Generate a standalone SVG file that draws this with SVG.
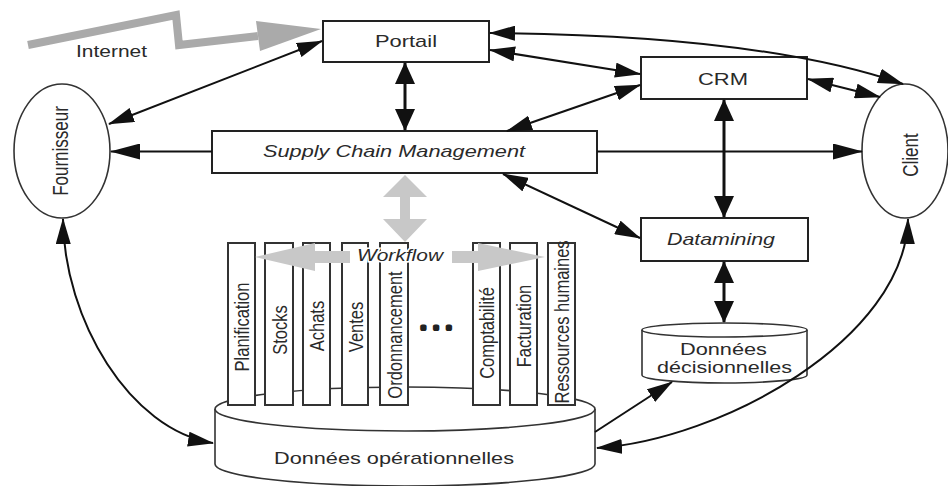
<svg xmlns="http://www.w3.org/2000/svg" width="948" height="486" viewBox="0 0 948 486">
<style>
text{font-family:"Liberation Sans",Arial,sans-serif;font-size:17px;fill:#2a2a2a}
.it{font-style:italic}
.box{fill:#fff;stroke:#222;stroke-width:2}
.ell{fill:#fff;stroke:#333;stroke-width:1.6}
.col{fill:#fff;stroke:#333;stroke-width:2}
.ct{font-size:16.5px}
.cn{fill:none;stroke:#111;stroke-width:2}
.cv{fill:none;stroke:#111;stroke-width:3}
.gray{fill:#c8c8c8}
</style>
<defs>
<marker id="ad" viewBox="0 0 26 15" refX="25" refY="7.5" markerWidth="26" markerHeight="15" markerUnits="userSpaceOnUse" orient="auto-start-reverse"><path d="M0,0 L26,7.5 L0,15 z" fill="#111"/></marker>
<marker id="ah" viewBox="0 0 30 16" refX="29" refY="8" markerWidth="30" markerHeight="16" markerUnits="userSpaceOnUse" orient="auto-start-reverse"><path d="M0,0 L30,8 L0,16 z" fill="#111"/></marker>
<marker id="av" viewBox="0 0 22 20" refX="21" refY="10" markerWidth="22" markerHeight="20" markerUnits="userSpaceOnUse" orient="auto-start-reverse"><path d="M0,0 L22,10 L0,20 z" fill="#111"/></marker>
</defs>

<g id="internet">
<polyline points="28,45 176,15 179,45 258,36" fill="none" stroke="#aaa" stroke-width="8" stroke-linejoin="miter"/>
<polygon points="256,21 321,29 260,51" fill="#aaa"/>
<text x="76" y="57" textLength="71" lengthAdjust="spacingAndGlyphs" fill="#444">Internet</text>
</g>

<g id="portail">
<rect class="box" x="323" y="21" width="166" height="41"/>
<text x="406" y="47" text-anchor="middle" textLength="62" lengthAdjust="spacingAndGlyphs">Portail</text>
</g>

<g id="crm">
<rect class="box" x="641" y="57" width="166" height="42"/>
<text x="723" y="85" text-anchor="middle" textLength="50" lengthAdjust="spacingAndGlyphs">CRM</text>
</g>

<g id="scm">
<rect class="box" x="212" y="131" width="385" height="42"/>
<text class="it" x="394" y="157" text-anchor="middle" textLength="262" lengthAdjust="spacingAndGlyphs">Supply Chain Management</text>
</g>

<g id="datamining">
<rect class="box" x="641" y="218" width="167" height="43"/>
<text class="it" x="721" y="245" text-anchor="middle" textLength="108" lengthAdjust="spacingAndGlyphs">Datamining</text>
</g>

<g id="fournisseur">
<ellipse class="ell" cx="62" cy="151" rx="48" ry="67"/>
<text transform="translate(60,151) scale(1.25,1) rotate(-90)" x="0" y="6" text-anchor="middle">Fournisseur</text>
</g>

<g id="client">
<ellipse class="ell" cx="905" cy="151" rx="43" ry="67"/>
<text transform="translate(910,155) scale(1.25,1) rotate(-90)" x="0" y="6" text-anchor="middle">Client</text>
</g>

<g id="donnees-decisionnelles">
<path class="ell" d="M642,330 L642,375 A82.5,8 0 0 0 807,375 L807,330"/>
<ellipse class="ell" cx="724.5" cy="330" rx="82.5" ry="7"/>
<text x="723.5" y="355" text-anchor="middle" textLength="87" lengthAdjust="spacingAndGlyphs">Données</text>
<text x="724.5" y="373" text-anchor="middle" textLength="135" lengthAdjust="spacingAndGlyphs">décisionnelles</text>
</g>

<g id="donnees-operationnelles">
<path class="ell" d="M215,409 L215,464 A190,22 0 0 0 595,464 L595,409"/>
<ellipse class="ell" cx="405" cy="409" rx="190" ry="22"/>
<text x="394" y="464" text-anchor="middle" textLength="240" lengthAdjust="spacingAndGlyphs">Données opérationnelles</text>
</g>

<g id="modules">
<g id="planification"><rect class="col" x="228" y="243" width="27" height="162"/><text class="ct" transform="translate(241.5,327) scale(1.25,1) rotate(-90)" y="6" text-anchor="middle">Planification</text></g>
<g id="stocks"><rect class="col" x="265" y="243" width="28" height="162"/><text class="ct" transform="translate(279,330) scale(1.25,1) rotate(-90)" y="6" text-anchor="middle">Stocks</text></g>
<g id="achats"><rect class="col" x="303" y="243" width="27" height="162"/><text class="ct" transform="translate(316.5,326) scale(1.25,1) rotate(-90)" y="6" text-anchor="middle">Achats</text></g>
<g id="ventes"><rect class="col" x="342" y="243" width="26" height="162"/><text class="ct" transform="translate(355,327) scale(1.25,1) rotate(-90)" y="6" text-anchor="middle">Ventes</text></g>
<g id="ordonnancement"><rect class="col" x="380" y="243" width="28" height="162"/><text class="ct" transform="translate(394,335) scale(1.25,1) rotate(-90)" y="6" text-anchor="middle">Ordonnancement</text></g>
<text x="421" y="329" font-family="DejaVu Sans" font-weight="bold" font-size="26" letter-spacing="8" fill="#222" stroke="#222" stroke-width="4" stroke-linejoin="round">...</text>
<g id="comptabilite"><rect class="col" x="473" y="243" width="27" height="162"/><text class="ct" transform="translate(486.5,333) scale(1.25,1) rotate(-90)" y="6" text-anchor="middle">Comptabilité</text></g>
<g id="facturation"><rect class="col" x="510" y="243" width="27" height="162"/><text class="ct" transform="translate(523.5,326) scale(1.25,1) rotate(-90)" y="6" text-anchor="middle">Facturation</text></g>
<g id="rh"><rect class="col" x="548" y="243" width="27" height="162"/><text class="ct" transform="translate(561.5,322) scale(1.25,1) rotate(-90)" y="6" text-anchor="middle">Ressources humaines</text></g>
</g>

<g id="workflow">
<polygon class="gray" points="405,175 427,197 410,197 410,219 427,219 405,242 383,219 400,219 400,197 383,197"/>
<polygon class="gray" points="255,257 315,243 315,251 350,251 350,263 315,263 315,271"/>
<polygon class="gray" points="545,257 478,243 478,251 452,251 452,263 478,263 478,271"/>
<text class="it" x="400" y="261" text-anchor="middle" textLength="86" lengthAdjust="spacingAndGlyphs" fill="#333" stroke="#fff" stroke-width="3" paint-order="stroke">Workflow</text>
</g>

<g id="connectors">
<line class="cn" x1="322" y1="41" x2="109" y2="124" marker-start="url(#ad)" marker-end="url(#ad)"/>
<line class="cn" x1="212" y1="151.5" x2="111" y2="151.5" marker-end="url(#ah)"/>
<line class="cn" x1="597" y1="151.5" x2="862" y2="151.5" marker-end="url(#ah)"/>
<line class="cv" x1="405" y1="63" x2="405" y2="130" marker-start="url(#av)" marker-end="url(#av)"/>
<line class="cn" x1="490" y1="50" x2="640" y2="74" marker-start="url(#ad)" marker-end="url(#ad)"/>
<path class="cn" d="M490,33 Q760,35 903,84" marker-start="url(#ad)" marker-end="url(#ad)"/>
<line class="cn" x1="507" y1="131" x2="640" y2="85" marker-start="url(#ad)" marker-end="url(#ad)"/>
<line class="cn" x1="503" y1="174" x2="640" y2="238" marker-start="url(#ad)" marker-end="url(#ad)"/>
<line class="cn" x1="808" y1="79" x2="880" y2="97" marker-start="url(#ad)" marker-end="url(#ad)"/>
<line class="cv" x1="724" y1="100" x2="724" y2="217" marker-start="url(#av)" marker-end="url(#av)"/>
<line class="cv" x1="724" y1="262" x2="724" y2="322" marker-start="url(#av)" marker-end="url(#av)"/>
<path class="cn" d="M63,219 C64,320 130,430 213,443" marker-start="url(#ad)" marker-end="url(#ad)"/>
<line class="cn" x1="595" y1="432" x2="672" y2="382" marker-end="url(#ad)"/>
<path class="cn" d="M908,219 C905,340 720,440 597,448" marker-start="url(#ad)" marker-end="url(#ad)"/>
</g>
</svg>
